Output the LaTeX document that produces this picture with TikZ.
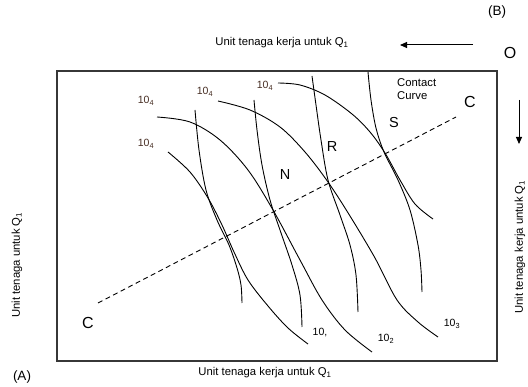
\documentclass[tikz,border=0pt]{standalone}
\usepackage{fontspec}
\setmainfont{Liberation Sans}
\usetikzlibrary{arrows.meta}
\definecolor{labelbrown}{RGB}{70,45,35}
\definecolor{framegray}{RGB}{55,55,55}
\begin{document}
\begin{tikzpicture}[x=1pt,y=-1pt,
  curve/.style={line width=0.9pt, smooth, tension=0.55},
  axislabel/.style={font=\fontsize{11.3}{13}\selectfont, inner sep=0pt},
  qlabel/.style={font=\fontsize{10.5}{12}\selectfont, text=labelbrown, inner sep=0pt},
  endlabel/.style={font=\fontsize{10.5}{12}\selectfont, inner sep=0pt},
  pointlabel/.style={font=\fontsize{14.5}{16}\selectfont, inner sep=0pt},
  bigletter/.style={font=\fontsize{16}{18}\selectfont, inner sep=0pt},
  cornerlabel/.style={font=\fontsize{13.5}{15}\selectfont, inner sep=0pt},
  dirarrow/.style={line width=1pt, -{Triangle[length=7pt,width=6pt]}}]
\useasboundingbox (0,0) rectangle (528,387);

% Edgeworth box frame
\draw[framegray, line width=1.3pt] (57,71) rectangle (497,361);

% isoquants of A
\draw[curve] plot coordinates {(168,152) (190,172) (208,198) (222,225) (234,252) (248,280) (268,306) (288,328) (308,344)};
\draw[curve] plot coordinates {(157,117) (190,122) (220,140) (248,170) (273,210) (300,260) (322,300) (345,330) (372,352)};
\draw[curve] plot coordinates {(218,101) (250,110) (280,127) (305,152) (328,182) (350,216) (375,258) (397,300) (418,322) (438,337)};
\draw[curve] plot coordinates {(278,83) (300,85) (325,95) (352,114) (370,132) (385,153) (400,180) (415,204) (433,219)};

% isoquants of B
\draw[curve] plot coordinates {(195,110) (199,150) (206,190) (217,220) (229,245) (237,268) (241,285) (242,303)};
\draw[curve] plot coordinates {(254,100) (257,130) (262,165) (270,200) (280,230) (292,265) (300,295) (302,327)};
\draw[curve] plot coordinates {(312,76) (316,105) (321,140) (328,180) (340,215) (350,245) (356,275) (358,312)};
\draw[curve] plot coordinates {(368,72) (371,100) (376,128) (384,152) (398,180) (410,210) (418,245) (421,270) (422,292)};

% contract curve
\coordinate (cc1) at (98,303);
\coordinate (cc2) at (456,117);
\draw[line width=0.9pt, dash pattern=on 5pt off 3.5pt] (cc1) -- (cc2);

% isoquant labels
\node[qlabel] (qa) at (146,101) {10\textsubscript{4}};
\node[qlabel] (qb) at (146,144) {10\textsubscript{4}};
\node[qlabel] (qc) at (205,92) {10\textsubscript{4}};
\node[qlabel] (qd) at (265,86) {10\textsubscript{4}};
\node[endlabel] (e1) at (320,333) {10,};
\node[endlabel] (e2) at (386,339) {10\textsubscript{2}};
\node[endlabel] (e3) at (452,324) {10\textsubscript{3}};

% points on the contract curve
\node[pointlabel] (pN) at (285,175) {N};
\node[pointlabel] (pR) at (332,147) {R};
\node[pointlabel] (pS) at (394,123) {S};
\node[bigletter] (cL) at (88,323) {C};
\node[bigletter] (cR) at (470,102) {C};
\node[axislabel, align=left, anchor=north west] (cont) at (397,78) {Contact\\Curve};

% origins and axis labels
\node[cornerlabel] (oA) at (22,377) {(A)};
\node[cornerlabel] (oB) at (497,12) {(B)};
\node[bigletter] (oO) at (510,53) {O};
\node[axislabel] (top) at (282,43) {Unit tenaga kerja untuk Q\textsubscript{1}};
\node[axislabel] (bot) at (265,373) {Unit tenaga kerja untuk Q\textsubscript{1}};
\node[axislabel, rotate=90] (lft) at (17,265) {Unit tenaga untuk Q\textsubscript{1}};
\node[axislabel, rotate=90] (rgt) at (520,247) {Unit tenaga kerja untuk Q\textsubscript{1}};

% direction arrows from origin B
\coordinate (ha) at (473,45);
\coordinate (hb) at (400,45);
\coordinate (va) at (519,100);
\coordinate (vb) at (519,144);
\draw[dirarrow] (ha) -- (hb);
\draw[dirarrow] (va) -- (vb);
\end{tikzpicture}
\end{document}
